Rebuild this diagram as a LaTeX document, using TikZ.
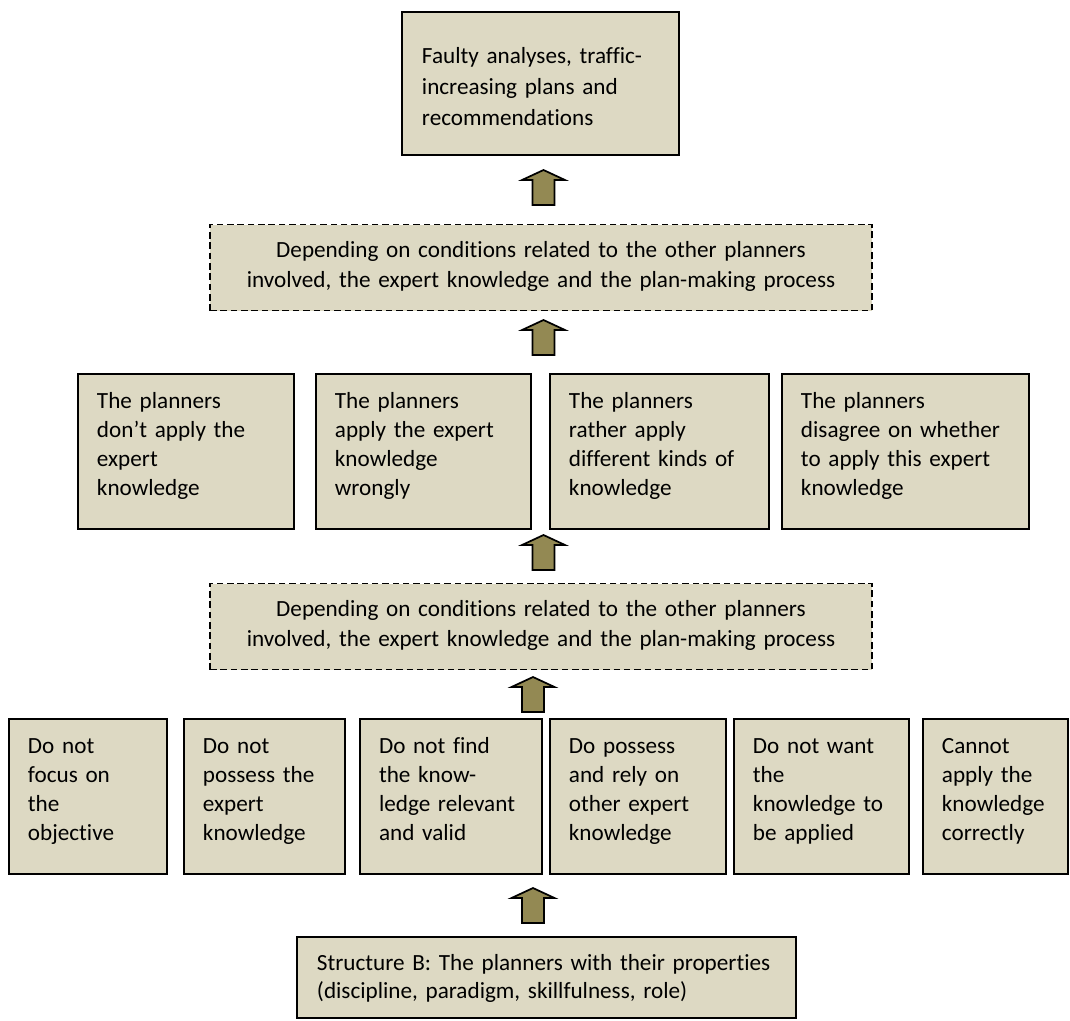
\documentclass[tikz,border=0pt]{standalone}
\usepackage{fontspec}
\setmainfont{Carlito}[Ligatures=CommonOff]
\usepackage{tikz}
\usetikzlibrary{positioning, calc}
\definecolor{boxfill}{RGB}{221,217,195}
\definecolor{arrowfill}{RGB}{147,137,83}
\tikzset{
  box/.style={rectangle, draw=black, fill=boxfill, line width=0.8pt,
    inner xsep=8.8pt, inner ysep=0pt, align=left,
    font=\fontsize{10.75pt}{13.6pt}\selectfont,
    text height=15.78pt, text depth=56.14pt},
  cond/.style={box, dash pattern=on 3pt off 1.8pt, align=center,
    text width=289.5pt, font=\fontsize{10.75pt}{13.9pt}\selectfont,
    text height=15.31pt, text depth=24.59pt},
  res/.style={box, inner xsep=9.28pt, text width=110pt,
    font=\fontsize{10.75pt}{14.4pt}\selectfont,
    text height=23.66pt, text depth=42.69pt},
  base/.style={box, inner xsep=9.28pt, text width=213pt,
    font=\fontsize{10.75pt}{13.2pt}\selectfont,
    text height=15.31pt, text depth=22.27pt},
  upfill/.style={draw=black, fill=arrowfill, line width=0.8pt, line join=miter},
  uparrow/.pic={
    \draw[upfill] (-11,17.5) -- (-11,-7.5) -- (-21.5,-7.5) -- (0,-17.5)
      -- (21.5,-7.5) -- (11,-7.5) -- (11,17.5) -- cycle;
  }
}
\begin{document}
\begin{tikzpicture}[x=0.464pt, y=-0.464pt]
  \useasboundingbox (0,0) rectangle (1070,1020);
  % result
  \node[res] (result) at (540.5,83.5) {Faulty analyses, traffic-\\increasing plans and\\recommendations};
  \pic (a1) at (543.5,187.5) {uparrow};
  \node[cond] (cond1) at (541,267.5) {Depending on conditions related to the other planners\\involved, the expert knowledge and the plan-making process};
  \pic (a2) at (543.5,337.5) {uparrow};
  % what the planners do
  \node[box, text width=82.6pt] (m1) at (186,451.5) {The planners\\don’t apply the\\expert\\knowledge};
  \node[box, text width=82.2pt] (m2) at (423.5,451.5) {The planners\\apply the expert\\knowledge\\wrongly};
  \node[box, text width=84pt] (m3) at (659.5,451.5) {The planners\\rather apply\\different kinds of\\knowledge};
  \node[box, text width=97pt] (m4) at (905.5,451.5) {The planners\\disagree on whether\\to apply this expert\\knowledge};
  \pic (a3) at (543.5,552.5) {uparrow};
  \node[cond] (cond2) at (541,626.5) {Depending on conditions related to the other planners\\involved, the expert knowledge and the plan-making process};
  \pic (a4) at (533,694.5) {uparrow};
  % properties
  \node[box, text width=55.7pt] (b1) at (88,796.5) {Do not\\focus on\\the\\objective};
  \node[box, text width=57.1pt] (b2) at (264.5,796.5) {Do not\\possess the\\expert\\knowledge};
  \node[box, text width=66.8pt] (b3) at (451,796.5) {Do not find\\the know-\\ledge relevant\\and valid};
  \node[box, text width=64.1pt] (b4) at (638,796.5) {Do possess\\and rely on\\other expert\\knowledge};
  \node[box, text width=63.6pt] (b5) at (821.5,796.5) {Do not want\\the\\knowledge to\\be applied};
  \node[box, text width=49.7pt] (b6) at (995.5,796.5) {Cannot\\apply the\\knowledge\\correctly};
  \pic (a5) at (533,905.5) {uparrow};
  \node[base] (structB) at (546.5,977.5) {Structure B: The planners with their properties\\(discipline, paradigm, skillfulness, role)};
\end{tikzpicture}
\end{document}
